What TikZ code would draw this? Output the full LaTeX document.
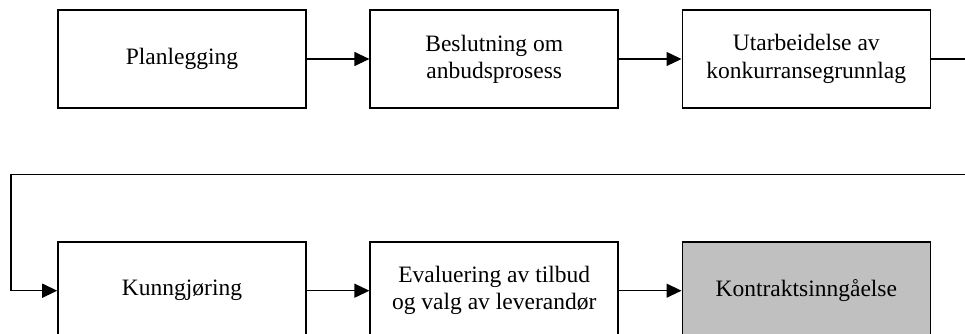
\documentclass[tikz,border=0pt]{standalone}
\usepackage{fontspec}
\setmainfont{Liberation Serif}
\usetikzlibrary{arrows.meta}
\begin{document}
\begin{tikzpicture}[x=1pt,y=-1pt,
  stepbox/.style={draw=black,line width=1.6pt,minimum width=248pt,minimum height=98pt,
    inner sep=0pt,align=center,font=\fontsize{23.5}{27.3}\selectfont},
  flow/.style={line width=1.2pt,-{Triangle[length=15pt,width=14pt]}},
  back/.style={line width=1.5pt,-{Triangle[length=15pt,width=14pt]}}]
\useasboundingbox (0,0) rectangle (965,334);
\clip (0,0) rectangle (965,334);
\node[stepbox] (b1) at (182,59) {Planlegging};
\node[stepbox] (b2) at (494.2,59) {Beslutning om\\anbudsprosess};
\node[stepbox] (b3) at (806.3,59) {Utarbeidelse av\\konkurransegrunnlag};
\node[stepbox] (b4) at (182,290.7) {Kunngjøring};
\node[stepbox] (b5) at (494.2,290.7) {Evaluering av tilbud\\og valg av leverandør};
\node[stepbox,fill={rgb,255:red,192;green,192;blue,192}] (b6) at (806.3,290.7) {Kontraktsinngåelse};
\coordinate (r) at (990,174.5);
\coordinate (l) at (11,174.5);
\draw[flow] (b1) -- (b2);
\draw[flow] (b2) -- (b3);
\draw[flow] (b4) -- (b5);
\draw[flow] (b5) -- (b6);
\draw[back] (b3.east) -| (r) -- (l) |- (b4.west);
\end{tikzpicture}
\end{document}
